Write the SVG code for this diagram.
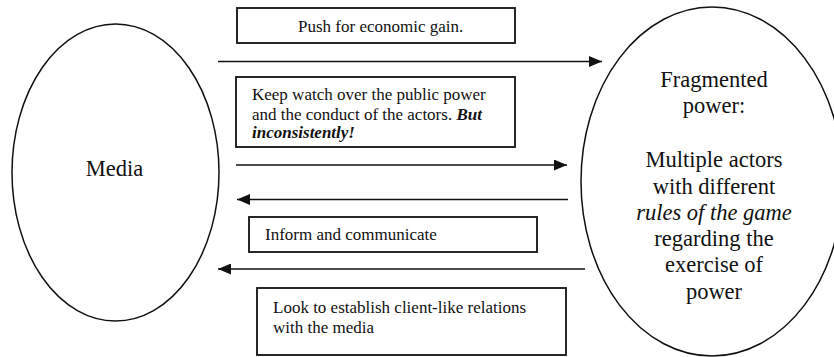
<svg xmlns="http://www.w3.org/2000/svg" width="834" height="357" viewBox="0 0 834 357">
<style>
text{font-family:"Liberation Serif","Times New Roman",serif;fill:#111}
.box{fill:#fff;stroke:#111;stroke-width:1.8}
.ell{fill:#fff;stroke:#111;stroke-width:1.5}
.lbl{font-size:17px}
.big{font-size:22.5px;text-anchor:middle}
.conn{stroke:#111;stroke-width:1.4;fill:none;marker-end:url(#ah)}
.bi{font-weight:bold;font-style:italic}
</style>
<defs>
<marker id="ah" viewBox="0 0 13 11" refX="13" refY="5.5" markerWidth="13" markerHeight="11" markerUnits="userSpaceOnUse" orient="auto">
<path d="M0,0 L13,5.5 L0,11 z" fill="#111"/>
</marker>
</defs>
<g id="media">
<ellipse class="ell" cx="115.5" cy="172.5" rx="103.5" ry="148.5"/>
<text class="big" x="114.5" y="176">Media</text>
</g>
<g id="fragmented">
<ellipse class="ell" cx="712" cy="181.5" rx="131" ry="174.5"/>
<text class="big" x="714" y="87">Fragmented</text>
<text class="big" x="714" y="113">power:</text>
<text class="big" x="714" y="167">Multiple actors</text>
<text class="big" x="714" y="194">with different</text>
<text class="big" x="714" y="220" font-style="italic">rules of the game</text>
<text class="big" x="714" y="246">regarding the</text>
<text class="big" x="714" y="272">exercise of</text>
<text class="big" x="714" y="299">power</text>
</g>
<g id="connectors">
<line class="conn" x1="218" y1="61.5" x2="602" y2="61.5"/>
<line class="conn" x1="236" y1="165" x2="567" y2="165"/>
<line class="conn" x1="568" y1="199.5" x2="237" y2="199.5"/>
<line class="conn" x1="585" y1="269" x2="218" y2="269"/>
</g>
<g id="box-push">
<rect class="box" x="237" y="8" width="278" height="35"/>
<text class="lbl" x="298" y="32">Push for economic gain.</text>
</g>
<g id="box-watch">
<rect class="box" x="236" y="77" width="279" height="70"/>
<text class="lbl" x="252" y="100">Keep watch over the public power</text>
<text class="lbl" x="252" y="120">and the conduct of the actors. <tspan class="bi">But</tspan></text>
<text class="lbl bi" x="252" y="138">inconsistently!</text>
</g>
<g id="box-inform">
<rect class="box" x="249" y="217" width="288" height="35"/>
<text class="lbl" x="265" y="240">Inform and communicate</text>
</g>
<g id="box-client">
<rect class="box" x="257" y="288" width="309" height="67"/>
<text class="lbl" x="273" y="313">Look to establish client-like relations</text>
<text class="lbl" x="273" y="333">with the media</text>
</g>
</svg>
